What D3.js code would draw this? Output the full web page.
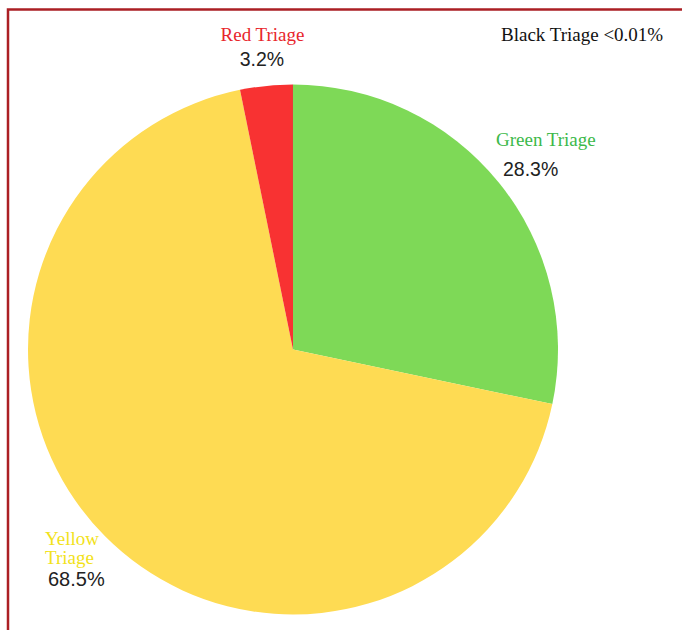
<!DOCTYPE html>
<html>
<head>
<meta charset="utf-8">
<script src="https://cdn.jsdelivr.net/npm/d3@7"></script>
<style>
  body { margin: 0; background: #fff; }
  svg { display: block; }
</style>
</head>
<body>
<svg id="chart" width="682" height="630"></svg>
<script>
'use strict';
/*
 *	Data
 */
var categories = ["Green Triage", "Yellow Triage", "Red Triage", "Black Triage"];
var shares = [28.3, 68.5, 3.2, 0.005];
var shareLabels = ["28.3%", "68.5%", "3.2%", "<0.01%"];
var colors = ["#7ed957", "#fedb53", "#f83232", "#000000"];
var textColors = ["#3cb94a", "#f2e21a", "#e8262c", "#111111"];

/*
 *	Setup
 */
var svg = d3.select("#chart");
var cx = 293, cy = 349.5, r = 265;

// frame (top + left edge)
svg.append("path")
	.attr("d", "M8,630 L8,9.5 L682,9.5")
	.attr("fill", "none")
	.attr("stroke", "#ab1f24")
	.attr("stroke-width", 2.5);

var pie = d3.pie().sort(null).value(function(d){ return d; });
var arc = d3.arc().innerRadius(0).outerRadius(r);

var g = svg.append("g").attr("transform", "translate(" + cx + "," + cy + ")");
g.selectAll("path")
	.data(pie(shares))
	.enter().append("path")
	.attr("d", arc)
	.attr("fill", function(d, i){ return colors[i]; });

// labels
var serif = "'Liberation Serif', 'Times New Roman', serif";
var sans = "'Liberation Sans', Arial, sans-serif";

function addText(txt, x, y, color, font, size, anchor){
	svg.append("text")
		.text(txt)
		.attr("x", x)
		.attr("y", y)
		.attr("fill", color)
		.attr("font-family", font)
		.attr("font-size", size)
		.attr("text-anchor", anchor || "start");
}

// red
addText(categories[2], 262.5, 41, textColors[2], serif, 19, "middle");
addText(shareLabels[2], 262, 66, "#222", sans, 19.5, "middle");
// black
addText(categories[3] + " " + shareLabels[3], 501, 41, textColors[3], serif, 19);
// green
addText(categories[0], 496, 146, textColors[0], serif, 19);
addText(shareLabels[0], 503, 176, "#222", sans, 19.5);
// yellow (two lines)
var yWords = categories[1].split(" ");
addText(yWords[0], 45, 545, textColors[1], serif, 19);
addText(yWords[1], 45, 564, textColors[1], serif, 19);
addText(shareLabels[1], 48, 586, "#222", sans, 20);
</script>
</body>
</html>
